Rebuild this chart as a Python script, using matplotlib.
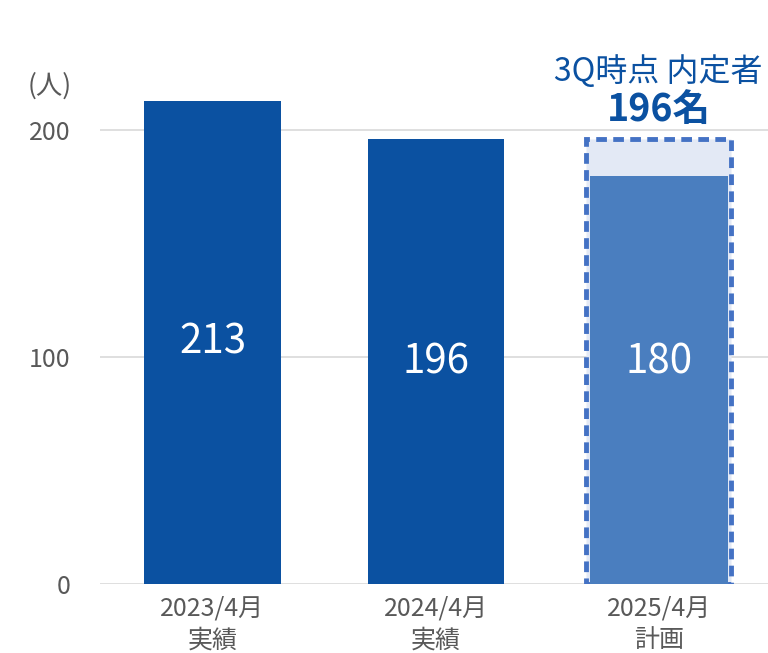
import matplotlib
matplotlib.use('Agg')
import matplotlib.pyplot as plt

plt.rcParams['font.family'] = ['Noto Sans CJK JP', 'DejaVu Sans']

# データ
categories = ['2023/4月\n実績', '2024/4月\n実績', '2025/4月\n計画']
values = [213, 196, 180]
naitei = 196  # 3Q時点 内定者
yticks = [0, 100, 200]

dark = '#0B51A1'
mid = '#4A7EBF'
light = '#E3E9F5'
edge = '#4472C4'
gray = '#595959'

fig = plt.figure(figsize=(7.68, 6.53), dpi=100)
ax = fig.add_axes([0.130, 0.1057, 0.870, 0.834])

x = list(range(len(categories)))

# 実績バー
ax.bar(x[:2], values[:2], width=0.61, color=dark, zorder=2)

# 計画バー（内定者の枠 + 計画値）
ax.bar(x[2], naitei, width=0.65, color=light, edgecolor=edge,
       linewidth=3.5, linestyle=(0, (2.2, 1.3)), zorder=2)
ax.bar(x[2], values[2], width=0.62, color=mid, zorder=3)

label_pos = [values[0] / 2, values[1] / 2, naitei / 2]
for xi, v, yp in zip(x, values, label_pos):
    ax.text(xi, yp, str(v), ha='center', va='center', color='white',
            fontsize=29, zorder=4)

ax.text(x[2], 226, '3Q時点 内定者', ha='center', va='center',
        color=dark, fontsize=23)
ax.text(x[2], 209, '196名', ha='center', va='center',
        color=dark, fontsize=27, fontweight='bold')

ax.set_xlim(-0.505, 2.49)
ax.set_ylim(0, 240)
ax.set_yticks(yticks)
ax.set_yticklabels([str(t) for t in yticks], color=gray, fontsize=18)
ax.set_xticks(x)
ax.set_xticklabels(categories, color=gray, fontsize=18, linespacing=1.3)
ax.tick_params(axis='y', length=0, pad=21)
ax.tick_params(axis='x', length=0, pad=8)

ax.grid(axis='y', color='#D9D9D9', linewidth=1.2, zorder=0)
for s in ax.spines.values():
    s.set_visible(False)

fig.text(0.065, 0.868, '(人)', ha='center', va='center', color=gray, fontsize=19)

fig.savefig('out.png', dpi=100)
